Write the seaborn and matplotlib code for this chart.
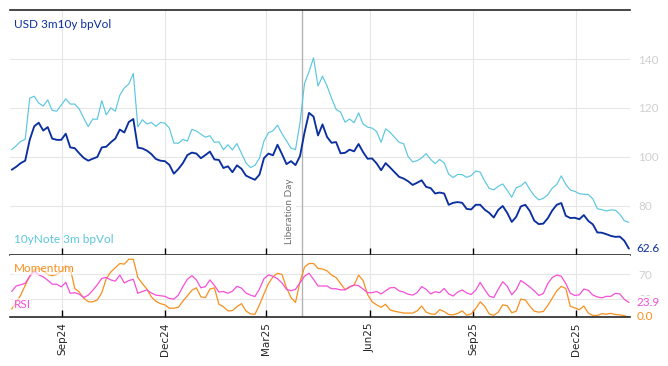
import pandas as pd
import matplotlib
matplotlib.use("Agg")
import matplotlib.pyplot as plt
import matplotlib.dates as mdates
import matplotlib.transforms as mtransforms
import seaborn as sns

# Daten (alle 4 Tage ab 18.07.2024)
DATES = pd.date_range("2024-07-18", periods=138, freq="4D")

USD_BPVOL = [
    94.8, 96.0, 97.5, 98.5, 107.0, 112.5, 114.0, 110.8, 112.2, 107.5,
    107.0, 107.0, 109.5, 103.9, 103.6, 101.5, 99.6, 98.5, 99.3, 100.0,
    103.9, 104.2, 106.0, 107.5, 111.2, 110.0, 114.3, 115.5, 103.8, 103.5,
    102.6, 101.2, 99.2, 98.5, 98.3, 96.8, 93.2, 95.1, 97.5, 100.8,
    101.8, 101.4, 99.5, 100.8, 102.2, 99.0, 98.8, 95.5, 96.2, 93.8,
    96.6, 95.2, 92.4, 91.5, 90.7, 92.8, 99.5, 101.4, 100.7, 105.0,
    101.2, 97.1, 98.3, 96.7, 100.4, 110.0, 118.0, 116.5, 108.8, 113.3,
    108.2, 105.8, 106.1, 101.5, 101.7, 103.0, 102.3, 105.3, 102.0, 99.3,
    99.4, 97.4, 94.6, 97.5, 95.7, 93.8, 91.9, 91.2, 90.1, 88.6,
    89.5, 90.5, 87.8, 87.3, 85.1, 85.5, 85.1, 80.5, 81.3, 81.6,
    81.3, 78.8, 78.6, 80.5, 80.5, 78.5, 77.2, 75.3, 78.4, 80.0,
    77.2, 73.5, 75.6, 79.8, 80.5, 78.0, 74.0, 72.6, 72.8, 75.0,
    78.2, 80.5, 81.2, 76.0, 75.1, 75.2, 74.6, 76.3, 73.9, 72.5,
    69.2, 69.1, 68.5, 67.8, 67.4, 67.5, 65.8, 62.6,
]

NOTE_BPVOL = [
    103.0, 104.6, 106.4, 107.2, 124.0, 124.8, 122.0, 120.8, 123.3, 119.0,
    118.7, 121.2, 123.7, 121.6, 121.6, 119.6, 115.8, 112.4, 115.5, 115.4,
    123.0, 117.2, 120.0, 118.7, 125.2, 128.2, 129.8, 134.1, 112.3, 115.2,
    113.5, 114.1, 112.5, 114.1, 113.8, 111.8, 105.7, 105.6, 107.2, 106.5,
    111.3, 110.6, 109.3, 108.1, 108.7, 106.0, 106.2, 103.0, 105.0, 102.9,
    105.5, 101.5, 97.6, 95.7, 96.6, 99.5, 106.5, 109.9, 110.7, 113.0,
    109.5, 106.6, 103.6, 103.0, 114.0, 130.0, 134.8, 140.5, 129.0, 133.0,
    129.0, 124.0, 119.5, 118.3, 114.2, 115.5, 114.0, 118.0, 113.5, 112.2,
    111.8, 110.4, 106.0, 111.5, 110.1, 108.0, 106.0, 105.4, 100.2, 98.0,
    98.5, 99.6, 101.4, 99.0, 97.3, 99.0, 97.6, 93.0, 91.6, 92.9,
    92.8, 91.7, 92.4, 94.3, 93.8, 90.2, 87.2, 86.6, 88.0, 89.0,
    86.4, 83.6, 87.5, 88.2, 89.8, 86.8, 84.2, 82.5, 83.1, 84.6,
    87.3, 88.8, 92.3, 88.8, 86.5, 86.0, 85.0, 84.8, 84.7, 82.9,
    78.9, 78.5, 78.0, 78.4, 78.3, 76.6, 74.0, 73.3,
]

MOMENTUM = [
    13, 24, 36, 52, 67, 78, 80, 76, 70, 68,
    70, 75, 85, 80, 47, 41, 31, 25, 25, 28,
    40, 63, 74, 81, 88, 87, 95, 95, 65, 55,
    46, 33, 26, 22, 20, 14.4, 14.4, 16, 26, 35,
    44, 48, 33, 32, 46, 48, 21, 17, 10, 10.5,
    17, 22, 10, 5, 4.5, 20, 38, 55, 66, 72,
    70, 48, 32, 24, 58, 82, 88, 88, 80, 79,
    76, 69, 65, 55, 45, 50, 52, 69, 60, 37,
    25, 20, 16, 21, 11.5, 9.5, 8, 6.5, 6.5, 6.5,
    10, 18, 8, 5, 4.5, 12, 9, 4, 3.5, 6,
    10, 3, 5, 14, 25, 17.5, 5, 2.8, 8, 20,
    18.5, 7, 9.5, 29.5, 28, 18, 9.5, 8, 9, 19,
    31, 43, 50.5, 47, 17.5, 15, 12, 18, 6.5, 2.5,
    2.5, 5.5, 4.5, 6, 4, 3.5, 2, 0.0,
]

RSI = [
    42, 51, 53, 55.4, 67, 75.5, 69.5, 66, 60.5, 54,
    54, 49.5, 57, 39, 40, 37.5, 32, 36, 44, 53,
    63.6, 65, 61, 59, 69, 56, 60, 62, 39, 42,
    44.5, 39.5, 36, 35, 34, 30.5, 29.5, 36, 50, 62,
    68, 61, 48, 50, 61, 52, 41, 42, 39, 42.5,
    50.5, 47.5, 39.5, 36, 33.6, 46, 63, 69.3, 67, 63,
    56, 45.5, 43.3, 45.5, 56.5, 67, 72, 62, 51, 51,
    51, 46.5, 46.5, 44.6, 44.6, 49, 52.8, 51.5, 46, 40,
    40, 42, 38, 43, 48, 48.5, 43, 41, 37.5, 36,
    40, 50, 45.5, 38, 41.5, 40, 47, 38, 34.5, 41,
    44.5, 39.5, 37, 44, 57, 45, 34.5, 32, 45.5, 58,
    50.5, 36.5, 45, 60, 55, 49.5, 43, 35.5, 38.5, 55,
    65, 69, 67, 55, 39, 35.5, 36.5, 46, 44, 36,
    33, 31.5, 34, 34, 39, 38, 29, 23.9,
]

LIBERATION_DAY = pd.Timestamp("2025-04-02")
MONTH_TICKS = pd.to_datetime(["2024-09-01", "2024-12-01", "2025-03-01",
                              "2025-06-01", "2025-09-01", "2025-12-01"])

# Farben
DUNKELBLAU = "#0b2f9f"
HELLBLAU = "#5cc6e0"
ORANGE = "#f7901e"
MAGENTA = "#f550d6"
GRID = "#e6e6e6"
TICKGRAU = "#cfcfcf"

sns.set_style("white")
plt.rcParams["font.family"] = ["Lato", "DejaVu Sans"]

df = pd.DataFrame({"Datum": DATES, "USD": USD_BPVOL, "Note": NOTE_BPVOL,
                   "Momentum": MOMENTUM, "RSI": RSI})

fig = plt.figure(figsize=(6.68, 3.66), dpi=100)
ax_top = fig.add_axes([10 / 668, 1 - 255 / 366, 620 / 668, 245 / 366])
ax_bot = fig.add_axes([10 / 668, 1 - 317 / 366, 620 / 668, 62 / 366], sharex=ax_top)

# oberes Panel
sns.lineplot(data=df, x="Datum", y="Note", ax=ax_top, color=HELLBLAU, lw=0.85)
sns.lineplot(data=df, x="Datum", y="USD", ax=ax_top, color=DUNKELBLAU, lw=1.35)
ax_top.set_ylim(60, 160)
ax_top.set_yticks([80, 100, 120, 140])

# unteres Panel
sns.lineplot(data=df, x="Datum", y="Momentum", ax=ax_bot, color=ORANGE, lw=0.9)
sns.lineplot(data=df, x="Datum", y="RSI", ax=ax_bot, color=MAGENTA, lw=0.9)
ax_bot.set_ylim(0, 102)
ax_bot.set_yticks([30, 70])

ax_bot.set_xlim(pd.Timestamp("2024-07-16 12:00"), pd.Timestamp("2026-01-18"))
ax_bot.set_xticks(MONTH_TICKS)
ax_bot.xaxis.set_major_formatter(mdates.DateFormatter("%b%y"))

for ax in (ax_top, ax_bot):
    ax.set_xlabel("")
    ax.set_ylabel("")
    ax.grid(True, color=GRID, lw=0.8)
    ax.set_axisbelow(True)
    ax.yaxis.tick_right()
    ax.tick_params(axis="y", length=0, labelcolor=TICKGRAU, labelsize=8.5, pad=6)
    ax.tick_params(axis="x", direction="in", length=5, width=1, color="black",
                   top=False, bottom=True)
    ax.spines["left"].set_visible(False)
    ax.spines["right"].set_visible(False)
    ax.axvline(LIBERATION_DAY, color="#b3b3b3", lw=1.0, zorder=1)

ax_top.spines["top"].set_linewidth(1.2)
ax_top.spines["bottom"].set_linewidth(1.2)
ax_bot.spines["top"].set_visible(False)
ax_bot.spines["bottom"].set_linewidth(1.2)
ax_top.tick_params(axis="x", labelbottom=False)
ax_bot.tick_params(axis="x", labelsize=7.5, labelrotation=90, pad=4,
                   labelfontfamily="DejaVu Sans")

# Beschriftungen
ax_top.text(0.006, 0.94, "USD 3m10y bpVol", transform=ax_top.transAxes,
            color=DUNKELBLAU, fontsize=8.5, va="center", ha="left")
ax_top.text(0.006, 0.063, "10yNote 3m bpVol", transform=ax_top.transAxes,
            color=HELLBLAU, fontsize=8.5, va="center", ha="left")
ax_top.text(LIBERATION_DAY - pd.Timedelta(days=11), 64.5, "Liberation Day",
            rotation=90, color="#707070", fontsize=7.3, ha="center", va="bottom",
            bbox=dict(facecolor="white", edgecolor="none", pad=1))

trans_top = mtransforms.blended_transform_factory(ax_top.transAxes, ax_top.transData)
ax_top.text(1.01, USD_BPVOL[-1], f"{USD_BPVOL[-1]:.1f}", transform=trans_top,
            color=DUNKELBLAU, fontsize=8.5, va="center", ha="left")

ax_bot.text(0.006, 0.78, "Momentum", transform=ax_bot.transAxes, color=ORANGE,
            fontsize=8.5, va="center", ha="left",
            bbox=dict(facecolor="white", edgecolor="none", alpha=0.6, pad=0.5))
ax_bot.text(0.006, 0.2, "RSI", transform=ax_bot.transAxes, color=MAGENTA,
            fontsize=8.5, va="center", ha="left",
            bbox=dict(facecolor="white", edgecolor="none", alpha=0.6, pad=0.5))

trans_bot = mtransforms.blended_transform_factory(ax_bot.transAxes, ax_bot.transData)
ax_bot.text(1.01, RSI[-1], f"{RSI[-1]:.1f}", transform=trans_bot, color=MAGENTA,
            fontsize=8.5, va="center", ha="left",
            bbox=dict(facecolor="white", edgecolor="none", pad=0.5))
ax_bot.text(1.01, MOMENTUM[-1], f"{MOMENTUM[-1]:.1f}", transform=trans_bot,
            color=ORANGE, fontsize=8.5, va="center", ha="left", clip_on=False)

fig.savefig("out.png", dpi=100)
